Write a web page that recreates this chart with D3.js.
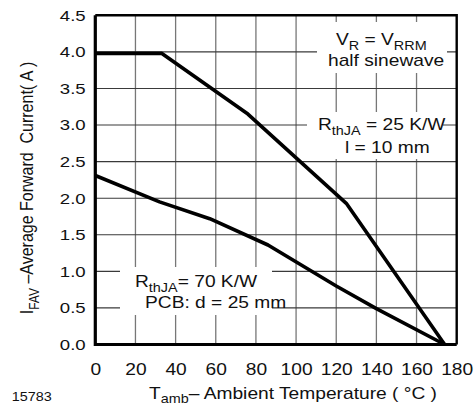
<!DOCTYPE html>
<html>
<head>
<meta charset="utf-8">
<script src="https://cdn.jsdelivr.net/npm/d3@7"></script>
<style>
  body { margin: 0; background: #fff; }
  svg text { font-family: "Liberation Sans", Arial, Helvetica, sans-serif; fill: #111; white-space: pre; }
</style>
</head>
<body>
<svg id="chart" width="476" height="408"></svg>
<script>
// data
const tempTicks = [0, 20, 40, 60, 80, 100, 120, 140, 160, 180];
const currTicks = [0, 0.5, 1.0, 1.5, 2.0, 2.5, 3.0, 3.5, 4.0, 4.5];
const temp25 = [0, 33, 76, 125, 174];        // R thJA = 25 K/W
const curr25 = [3.98, 3.98, 3.15, 1.93, 0];
const temp70 = [0, 32, 57, 86, 120, 140, 174];   // R thJA = 70 K/W
const curr70 = [2.31, 1.95, 1.72, 1.36, 0.8, 0.49, 0];

const SX = 1.2; // the scan is wider than it is tall

var svg = d3.select("svg#chart"),
    margin = {top: 15.3, right: 19.3, bottom: 63.5, left: 95.3},
    width = +svg.attr("width") - margin.left - margin.right,
    height = +svg.attr("height") - margin.top - margin.bottom;

var x = d3.scaleLinear().domain([0, 180]).range([0, width]);
var y = d3.scaleLinear().domain([0, 4.5]).range([height, 0]);

var g = svg.append("g").attr("transform", `translate(${margin.left},${margin.top})`);

// GRID
g.append("g").selectAll("line").data(tempTicks.slice(1, -1)).enter()
  .append("line")
  .attr("x1", d => x(d)).attr("x2", d => x(d))
  .attr("y1", 0).attr("y2", height)
  .attr("stroke", "#777").attr("stroke-width", 1.3);

g.append("g").selectAll("line").data(currTicks.slice(1, -1)).enter()
  .append("line")
  .attr("x1", 0).attr("x2", width)
  .attr("y1", d => y(d)).attr("y2", d => y(d))
  .attr("stroke", "#3a3a3a").attr("stroke-width", 1.1);

// white boxes behind the notes
const boxes = [
  [317 - margin.left, 22 - margin.top, 130, 51],
  [307 - margin.left, 112 - margin.top, 136, 47],
  [120 - margin.left, 267 - margin.top, 152, 48]
];
g.selectAll("rect.note").data(boxes).enter()
  .append("rect").attr("class", "note")
  .attr("x", d => d[0]).attr("y", d => d[1])
  .attr("width", d => d[2]).attr("height", d => d[3])
  .attr("fill", "#fff");

// CURVES
var line = d3.line().x(d => x(d[0])).y(d => y(d[1]));
[[temp25, curr25], [temp70, curr70]].forEach(s => {
  g.append("path")
    .datum(d3.zip(s[0], s[1]))
    .attr("d", line)
    .attr("fill", "none")
    .attr("stroke", "#000")
    .attr("stroke-width", 3.6)
    .attr("stroke-linejoin", "round");
});

// FRAME
g.append("path")
  .attr("d", `M0,0H${width}V${height}`)
  .attr("fill", "none").attr("stroke", "#000").attr("stroke-width", 2.4);
g.append("path")
  .attr("d", `M0,0V${height}H${width}`)
  .attr("fill", "none").attr("stroke", "#000").attr("stroke-width", 3.2);

// AXES
var yAxis = d3.axisLeft(y).tickValues(currTicks).tickSize(0).tickPadding(8)
  .tickFormat(d3.format(".1f"));
var xAxis = d3.axisBottom(x).tickValues(tempTicks).tickSize(0).tickPadding(19);

var ya = g.append("g").call(yAxis);
var xa = g.append("g").attr("transform", `translate(0,${height})`).call(xAxis);
[ya, xa].forEach(a => {
  a.select(".domain").remove();
  a.selectAll("text").attr("font-size", 15.5).attr("font-family", null)
    .attr("transform", `scale(${SX},1)`);
});
xa.selectAll("text").attr("font-size", 16);

// TEXT helper: parts = [[text, sub?], ...]
function label(px, py, parts, opts) {
  opts = opts || {};
  var fs = opts.size || 16;
  var sh = fs * (opts.shift || 0.3);
  var t = svg.append("g")
    .attr("transform", `translate(${px},${py}) ${opts.rotate ? "rotate(-90) scale(1," + SX + ")" : "scale(" + SX + ",1)"}`)
    .append("text")
    .attr("font-size", fs)
    .attr("text-anchor", opts.anchor || "start");
  var shifted = false;
  parts.forEach(p => {
    var span = t.append("tspan").text(p[0]);
    if (p[1] && !shifted) { span.attr("dy", sh).attr("font-size", fs * 0.75); shifted = true; }
    else if (!p[1] && shifted) { span.attr("dy", -sh); shifted = false; }
    else if (p[1]) span.attr("font-size", fs * 0.75);
  });
  return t;
}

label(336, 45, [["V"], ["R", 1], [" = V"], ["RRM", 1]]);
label(328, 66, [["half sinewave"]]);
label(318, 130, [["R"], ["thJA", 1], [" = 25 K/W"]]);
label(345, 153, [["l = 10 mm"]]);
label(135, 287, [["R"], ["thJA", 1], ["= 70 K/W"]]);
label(145, 308, [["PCB: d = 25 mm"]]);

label(293, 399, [["T"], ["amb", 1], ["– Ambient Temperature ( °C )"]], {anchor: "middle", shift: 0.22});
label(11.7, 401, [["15783"]], {size: 12});
label(33, 188, [["I"], ["FAV", 1], [" –Average Forward  Current( A )"]], {rotate: true, anchor: "middle", size: 16});
</script>
</body>
</html>
